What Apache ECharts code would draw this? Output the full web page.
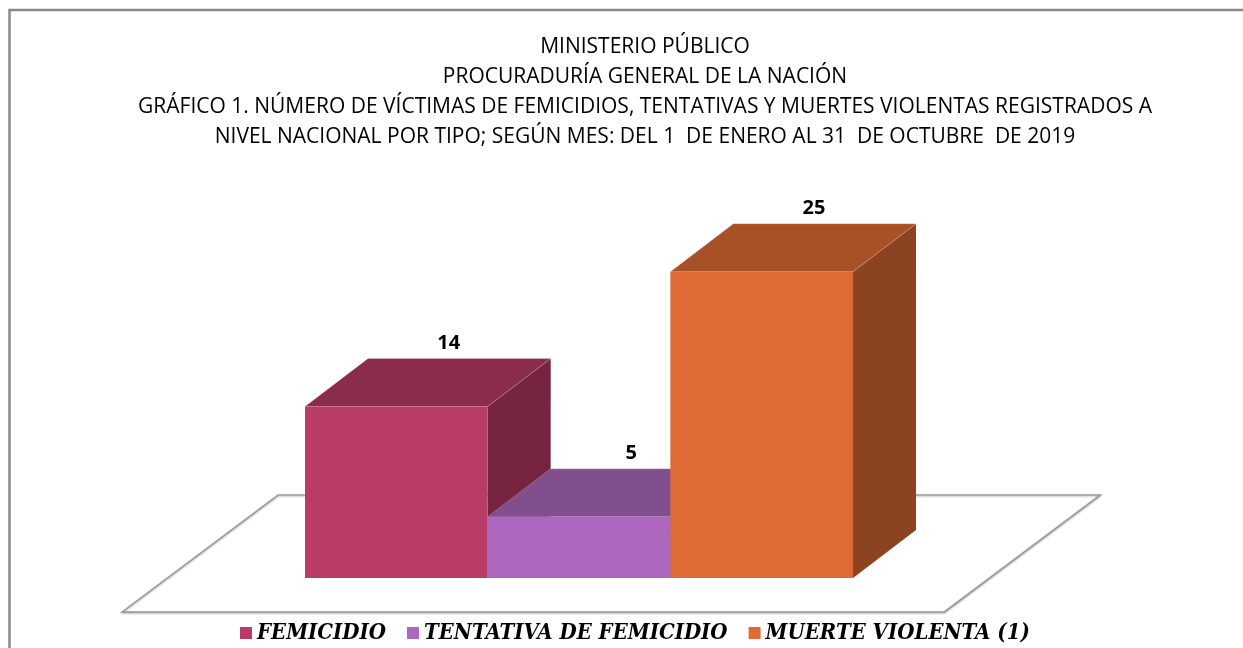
<!DOCTYPE html>
<html><head><meta charset="utf-8">
<script src="https://cdn.jsdelivr.net/npm/echarts@6/dist/echarts.min.js"></script>
<style>html,body{margin:0;padding:0;background:#fff}#c{width:1243px;height:648px}</style>
</head><body><div id="c"></div>
<script>
const categories = ['FEMICIDIO', 'TENTATIVA DE FEMICIDIO', 'MUERTE VIOLENTA (1)'];
const values = [14, 5, 25];
const titleLines = [
  'MINISTERIO PÚBLICO',
  'PROCURADURÍA GENERAL DE LA NACIÓN',
  'GRÁFICO 1. NÚMERO DE VÍCTIMAS DE FEMICIDIOS, TENTATIVAS Y MUERTES VIOLENTAS REGISTRADOS A',
  'NIVEL NACIONAL POR TIPO; SEGÚN MES: DEL 1  DE ENERO AL 31  DE OCTUBRE  DE 2019'
];
const frontColors = ['#B93C66', '#AE67BE', '#DE6B36'];
const topColors = ['#8B2C4D', '#824F8E', '#A85127'];
const sideColors = ['#76243F', '#6B3F76', '#8B4322'];

const chart = echarts.init(document.getElementById('c'));

function barRender(idx) {
  return function (params, api) {
    const base = api.coord([idx, 0]);
    const top = api.coord([idx, api.value(1)]);
    const cw = api.size([1, 0])[0];
    const dx = cw * 0.345, dy = cw * 0.263;
    const x0 = base[0] - cw / 2, x1 = base[0] + cw / 2;
    const yb = base[1], yt = top[1];
    return {
      type: 'group',
      children: [
        { type: 'polygon', shape: { points: [[x1, yb], [x1 + dx, yb - dy], [x1 + dx, yt - dy], [x1, yt]] },
          style: { fill: sideColors[idx] } },
        { type: 'polygon', shape: { points: [[x0, yt], [x0 + dx, yt - dy], [x1 + dx, yt - dy], [x1, yt]] },
          style: { fill: topColors[idx], stroke: 'rgba(255,255,255,0.25)', lineWidth: 0.8 } },
        { type: 'rect', shape: { x: x0, y: yt, width: cw, height: yb - yt },
          style: { fill: frontColors[idx] } },
        { type: 'text', x: base[0] + dx * 0.83, y: yt - dy - 15,
          style: { text: String(api.value(1)), fill: '#000', align: 'center', verticalAlign: 'middle',
            font: 'bold 20px "Open Sans", sans-serif' } }
      ]
    };
  };
}

function floorRender(params, api) {
  const base = api.coord([0, 0]);
  const cw = api.size([1, 0])[0];
  const left = base[0] - cw / 2;
  const right = left + cw * categories.length;
  const fdx = cw * 0.853, fdy = cw * 0.64;
  const yf = base[1] + cw * 0.186;
  const xfl = left - cw * 1.0, xfr = right + cw * 0.5;
  return {
    type: 'polygon',
    shape: { points: [[xfl, yf], [xfr, yf], [xfr + fdx, yf - fdy], [xfl + fdx, yf - fdy]] },
    style: { fill: '#fff', stroke: '#9a9a9a', lineWidth: 1.6, shadowColor: 'rgba(0,0,0,0.25)', shadowBlur: 2, shadowOffsetY: 1 }
  };
}

const series = [{
  type: 'custom', name: 'floor', silent: true, renderItem: floorRender, data: [[0, 0]], z: 1
}];
categories.forEach((c, i) => {
  series.push({
    type: 'custom', name: c, renderItem: barRender(i), z: 2 + i,
    itemStyle: { color: frontColors[i] },
    data: [[i, values[i]]],
    encode: { x: 0, y: 1 }
  });
});

chart.setOption({
  animation: false,
  title: {
    text: titleLines.join('\n'),
    left: 640, top: 27, textAlign: 'center',
    textStyle: { fontFamily: '"Open Sans", sans-serif', fontWeight: 'normal', fontSize: 21, lineHeight: 30, color: '#000' }
  },
  legend: {
    data: categories, bottom: -1, left: 235,
    icon: 'rect', itemWidth: 12, itemHeight: 12, itemGap: 21,
    textStyle: { fontFamily: '"DejaVu Serif Condensed", "DejaVu Serif", serif', fontStyle: 'italic', fontWeight: 'bold', fontSize: 22, color: '#000' }
  },
  grid: { left: 305, right: 390, top: 210.5, bottom: 70 },
  xAxis: { type: 'category', data: categories, show: false },
  yAxis: { type: 'value', min: 0, max: 30, show: false },
  graphic: [
    { type: 'polyline', shape: { points: [[9.5, 648], [9.5, 10], [1243, 10]] }, style: { stroke: '#8a8a8a', lineWidth: 2.5, fill: null } }
  ],
  series: series
});
</script></body></html>
